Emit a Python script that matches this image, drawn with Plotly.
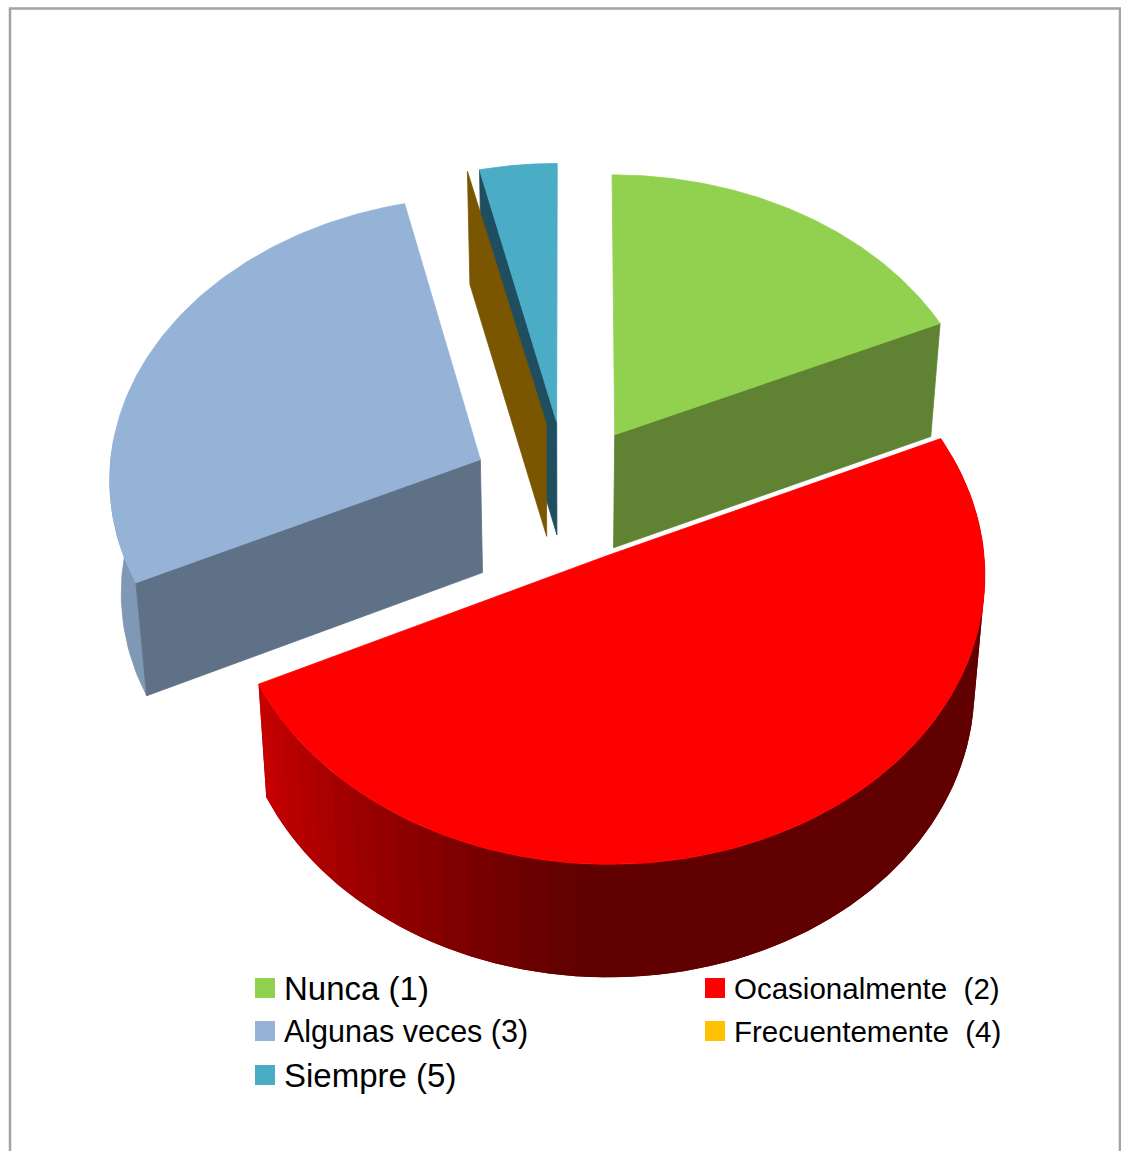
import math
import numpy as np
import plotly.graph_objects as go

# Survey answers, share of responses per category (percent)
categories = ["Nunca (1)", "Ocasionalmente  (2)", "Algunas veces (3)", "Frecuentemente  (4)", "Siempre (5)"]
shares = [18.2, 49.7, 28.4, 0.1, 3.6]
pulls = [0.24, 0.25, 0.26, 0.25, 0.25]
top_colors = ["#92d050", "#ff0000", "#95b3d7", "#ffc000", "#4bacc6"]
cut_colors = ["#5f8333", "#600000", "#5f7187", "#7a5600", "#1f4e60"]

# Projection of the tilted pie onto the page
CX, CY = 567, 491
AX, AY = 372, 282
PERSP = 0.06
DEPTH = 113
SHRINK = 0.975


def project(u, v, lower=False):
    w = 1 / (1 - PERSP * v)
    x = CX + u * AX * w
    y = CY + v * AY * w
    if lower:
        x = CX + (x - CX) * SHRINK
        y = y + DEPTH
    return x, y


def ring(apex, a0, a1, lower=False, n=120):
    angles = np.linspace(a0, a1, n)
    pts = [project(apex[0] + math.sin(t), apex[1] - math.cos(t), lower) for t in angles]
    return [p[0] for p in pts], [p[1] for p in pts]


def polygon(fig, xs, ys, color, edge=0.8):
    fig.add_trace(go.Scatter(
        x=list(xs) + [xs[0]], y=list(ys) + [ys[0]], mode="lines", fill="toself",
        fillcolor=color, line=dict(color=color, width=edge), hoverinfo="skip", showlegend=False,
    ))


def cut_face(fig, apex, angle, color):
    ex, ey = project(apex[0] + math.sin(angle), apex[1] - math.cos(angle))
    lx, ly = project(apex[0] + math.sin(angle), apex[1] - math.cos(angle), True)
    ax, ay = project(*apex)
    bx, by = project(*apex, True)
    polygon(fig, [ax, ex, lx, bx], [ay, ey, ly, by], color)


def red_rim_shade(angle):
    # Rim darkens from the lit left side towards the front of the pie
    deg = math.degrees(angle)
    t = min(max((deg - 185) / 59, 0), 1)
    return f"rgb({int(96 + t * 104)},0,0)"


fig = go.Figure()

# Slice boundaries run clockwise from twelve o'clock
edges = np.cumsum([0] + shares) / sum(shares) * 2 * math.pi
slices = []
for i in range(len(shares)):
    mid = (edges[i] + edges[i + 1]) / 2
    slices.append((edges[i], edges[i + 1], (pulls[i] * math.sin(mid), -pulls[i] * math.cos(mid))))

# Side walls, back to front
a0, a1, apex = slices[4]
cut_face(fig, apex, a0, cut_colors[4])
a0, a1, apex = slices[3]
cut_face(fig, apex, a0, cut_colors[3])

a0, a1, apex = slices[0]
cut_face(fig, apex, a1, cut_colors[0])

a0, a1, apex = slices[2]
rx, ry = ring(apex, a0, math.radians(274), n=30)
lx, ly = ring(apex, a0, math.radians(274), True, n=30)
polygon(fig, rx + lx[::-1], ry + ly[::-1], "#7f98b6")
cut_face(fig, apex, a0, cut_colors[2])

# Curved red rim, painted as overlapping bands so that no seams show
a0, a1, apex = slices[1]
steps = np.linspace(a0, a1, 46)
step = steps[1] - steps[0]
for s0 in steps[:-1]:
    s1 = min(s0 + 2 * step, a1)
    rx, ry = ring(apex, s0, s1, n=5)
    lx, ly = ring(apex, s0, s1, True, n=5)
    polygon(fig, rx + lx[::-1], ry + ly[::-1], red_rim_shade(s0 + step / 2), edge=0)

# Top faces
for i in [4, 2, 0, 1]:
    a0, a1, apex = slices[i]
    rx, ry = ring(apex, a0, a1)
    ax, ay = project(*apex)
    polygon(fig, [ax] + rx, [ay] + ry, top_colors[i])

# Key below the pie
key_x = [265, 715, 265, 715, 265]
key_y = [988, 988, 1031, 1031, 1075]
key_sizes = [33, 29.5, 30.5, 29.5, 33]
fig.add_trace(go.Scatter(
    x=key_x, y=key_y, mode="markers", hoverinfo="skip", showlegend=False,
    marker=dict(symbol="square", size=20, color=top_colors, line=dict(width=0)),
))
for name, x, y, size in zip(categories, key_x, key_y, key_sizes):
    fig.add_annotation(
        x=x + 17, y=y, text=name.replace("  ", "\u00a0\u00a0"), showarrow=False,
        xanchor="left", yanchor="middle",
        font=dict(color="#000000", family="Liberation Sans", size=size),
    )

fig.update_layout(
    width=1121, height=1151, margin=dict(l=0, r=0, t=0, b=0),
    paper_bgcolor="white", plot_bgcolor="white", showlegend=False,
    xaxis=dict(range=[0, 1121], visible=False, fixedrange=True),
    yaxis=dict(range=[1151, 0], visible=False, fixedrange=True),
    shapes=[dict(type="path", path="M 10 1151 L 10 8.5 L 1120 8.5 L 1120 1151",
                 line=dict(color="#a3a3a3", width=2.5))],
)

fig.write_html("out.html", config=dict(displayModeBar=False))
